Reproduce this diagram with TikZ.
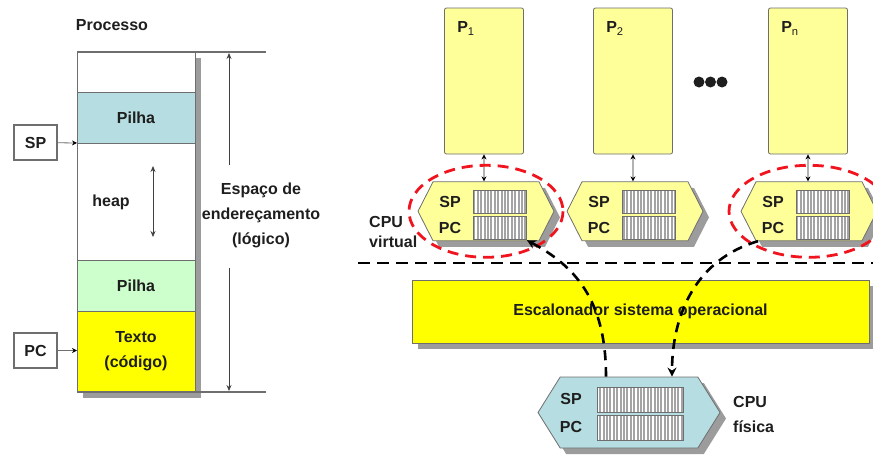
\documentclass[tikz,border=0pt]{standalone}
\usepackage{fontspec}
\setmainfont{Liberation Sans}
\usepackage{tikz}
\usepackage{xcolor}
\usetikzlibrary{positioning,shapes.symbols,shadows,patterns.meta,arrows.meta}
\definecolor{ink}{HTML}{1E1E1E}
\definecolor{edge}{HTML}{6E6E6E}
\definecolor{shade}{HTML}{9C9C9C}
\definecolor{cyanbg}{HTML}{B6DDE1}
\definecolor{greenbg}{HTML}{CCFFCC}
\definecolor{yelbg}{HTML}{FFFF00}
\definecolor{paleyel}{HTML}{FFFF99}
\definecolor{regbg}{HTML}{A4A4A4}
\definecolor{vred}{HTML}{F0141E}

\begin{document}
\begin{tikzpicture}[
    x=1pt, y=-1pt,
    font=\fontsize{16}{25}\selectfont\bfseries,
    text=ink,
    >={Stealth[length=6pt,width=5pt]},
    box shadow/.style={drop shadow={shadow xshift=6pt, shadow yshift=-6pt, fill=shade, opacity=1}},
    mem node/.style={rectangle, draw=edge, line width=0.8pt, fill=white, minimum width=118pt, inner sep=0pt, outer sep=0pt, box shadow},
    ptr box/.style={rectangle, draw=edge, line width=1.2pt, fill=white, minimum width=43pt, minimum height=35pt, inner sep=0pt},
    proc node/.style={rectangle, rounded corners=2pt, draw=edge, line width=0.8pt, fill=paleyel, minimum width=79pt, minimum height=146pt},
    cpu node/.style={signal, signal to=west and east, draw=edge, line width=0.8pt, inner sep=0pt, box shadow},
    reg node/.style={rectangle, draw=edge, line width=0.8pt, inner sep=0pt, preaction={fill=regbg}, pattern={Lines[angle=90,distance=3.4pt,line width=1.4pt]}, pattern color=white},
    tag/.style={inner sep=0pt},
    ptr/.style={draw=edge, thick, -{Stealth[length=5pt,width=5pt,color=black]}},
    link/.style={draw=gray!60, line width=1.5pt, {Stealth[length=5pt,width=5pt,color=black]}-{Stealth[length=5pt,width=5pt,color=black]}},
    span/.style={draw=black!75, thick, ->},
    limit/.style={draw=edge, line width=1.4pt},
    sep line/.style={draw=black, line width=2.8pt, dash pattern=on 12pt off 7pt},
    red ring/.style={draw=vred, line width=2.8pt, dash pattern=on 11pt off 7pt},
    ctx line/.style={draw=black, line width=2.6pt, dash pattern=on 10pt off 7pt}
  ]
  \clip (0,0) rectangle (873,458);

  \node[tag] (processo) at (112,25) {Processo};
  \node[mem node, minimum height=40pt] (topo) at (136,72) {};
  \node[mem node, minimum height=51pt, fill=cyanbg, below=0pt of topo] (pilhaA) {Pilha};
  \node[mem node, minimum height=117pt, below=0pt of pilhaA] (heap) {};
  \node[mem node, minimum height=51pt, fill=greenbg, below=0pt of heap] (pilhaB) {Pilha};
  \node[mem node, minimum height=81pt, fill=yelbg, below=0pt of pilhaB, align=center] (texto) {Texto\\(código)};
  \node[tag] (heaptxt) at (111,202) {heap};
  \coordinate (heapA) at (153,166);
  \coordinate (heapB) at (153,237);
  \draw[span, <->] (heapA) -- (heapB);

  \node[ptr box] (sp) at (35.5,142.5) {SP};
  \node[ptr box] (pc) at (35.5,350.5) {PC};
  \draw[ptr] (sp) -- (pilhaA.south west);
  \draw[ptr] (pc) -- (pc -| texto.west);

  \coordinate (limA) at (266,52);
  \coordinate (limB) at (266,392);
  \draw[limit] (topo.north west) -- (limA);
  \draw[limit] (texto.south west) -- (limB);
  \node[tag, align=center] (espaco) at (261,215) {Espaço de\\endereçamento\\(lógico)};
  \coordinate (espA) at (229,165);
  \coordinate (espB) at (229,268);
  \draw[span, shorten >=1pt] (espA) -- (espA |- topo.north);
  \draw[span, shorten >=1pt] (espB) -- (espB |- texto.south);

  \node[proc node] (p1) at (484,81) {};
  \node[proc node] (p2) at (633,81) {};
  \node[proc node] (pn) at (808,81) {};
  \node[tag, anchor=north west] (p1txt) at ([shift={(13,14)}]p1.north west) {P\textsubscript{\mdseries 1}};
  \node[tag, anchor=north west] (p2txt) at ([shift={(13,14)}]p2.north west) {P\textsubscript{\mdseries 2}};
  \node[tag, anchor=north west] (pntxt) at ([shift={(13,14)}]pn.north west) {P\textsubscript{\mdseries n}};
  \fill[ink] (699,82) circle (5.5) (710.5,82) circle (5.5) (722,82) circle (5.5);

  \node[cpu node, fill=paleyel, signal pointer angle=126, minimum width=136pt, minimum height=59pt, below=27pt of p1, xshift=2pt] (v1) {};
  \node[cpu node, fill=paleyel, signal pointer angle=126, minimum width=136pt, minimum height=59pt, below=27pt of p2, xshift=2pt] (v2) {};
  \node[cpu node, fill=paleyel, signal pointer angle=126, minimum width=136pt, minimum height=59pt, below=27pt of pn, xshift=1pt] (vn) {};
  \node[reg node, minimum width=53pt, minimum height=23pt] (v1sp) at ([shift={(14,-9.5)}]v1.center) {};
  \node[reg node, minimum width=53pt, minimum height=23pt] (v1pc) at ([shift={(14,17)}]v1.center) {};
  \node[reg node, minimum width=53pt, minimum height=23pt] (v2sp) at ([shift={(14,-9.5)}]v2.center) {};
  \node[reg node, minimum width=53pt, minimum height=23pt] (v2pc) at ([shift={(14,17)}]v2.center) {};
  \node[reg node, minimum width=53pt, minimum height=23pt] (vnsp) at ([shift={(14,-9.5)}]vn.center) {};
  \node[reg node, minimum width=53pt, minimum height=23pt] (vnpc) at ([shift={(14,17)}]vn.center) {};
  \node[tag] (v1sptxt) at ([shift={(-36,-9)}]v1.center) {SP};
  \node[tag] (v1pctxt) at ([shift={(-36,16.5)}]v1.center) {PC};
  \node[tag] (v2sptxt) at ([shift={(-36,-9)}]v2.center) {SP};
  \node[tag] (v2pctxt) at ([shift={(-36,16.5)}]v2.center) {PC};
  \node[tag] (vnsptxt) at ([shift={(-36,-9)}]vn.center) {SP};
  \node[tag] (vnpctxt) at ([shift={(-36,16.5)}]vn.center) {PC};
  \draw[link] (p1.south) -- (p1.south |- v1.north);
  \draw[link] (p2.south) -- (p2.south |- v2.north);
  \draw[link] (pn.south) -- (pn.south |- vn.north);
  \draw[red ring] (v1.center) ellipse [x radius=77, y radius=46];
  \draw[red ring] (vn.center) ellipse [x radius=80, y radius=46];
  \node[tag, anchor=west, align=left, font=\fontsize{16}{20}\selectfont\bfseries] (cpuv) at (369,232) {CPU\\virtual};

  \coordinate (sepA) at (358,263);
  \coordinate (sepB) at (873,263);
  \draw[sep line] (sepA) -- (sepB);

  \node[rectangle, draw=edge, line width=0.8pt, fill=yelbg, minimum width=457pt, minimum height=63pt, box shadow] (escal) at (640.5,311.5) {Escalonador sistema operacional};

  \node[cpu node, fill=cyanbg, signal pointer angle=116, minimum width=182pt, minimum height=71pt] (fis) at (629,412.5) {};
  \node[reg node, minimum width=86pt, minimum height=25pt] (fissp) at ([shift={(11,-13)}]fis.center) {};
  \node[reg node, minimum width=86pt, minimum height=25pt] (fispc) at ([shift={(11,15)}]fis.center) {};
  \node[tag] (fissptxt) at ([shift={(-58,-14)}]fis.center) {SP};
  \node[tag] (fispctxt) at ([shift={(-58,14.5)}]fis.center) {PC};
  \node[tag, anchor=west, align=left] (cpufis) at (733,414) {CPU\\física};

  \draw[ctx line, {Stealth[length=9pt,width=9pt]}-] (v1pc.south east) .. controls +(48,26) and +(0,-77) .. ([xshift=-23pt]fis.north);
  \draw[ctx line, -{Stealth[length=9pt,width=9pt]}] ([xshift=-51pt]vn.south) .. controls +(-62,18) and +(0,-62) .. ([xshift=43pt]fis.north);
\end{tikzpicture}
\end{document}
